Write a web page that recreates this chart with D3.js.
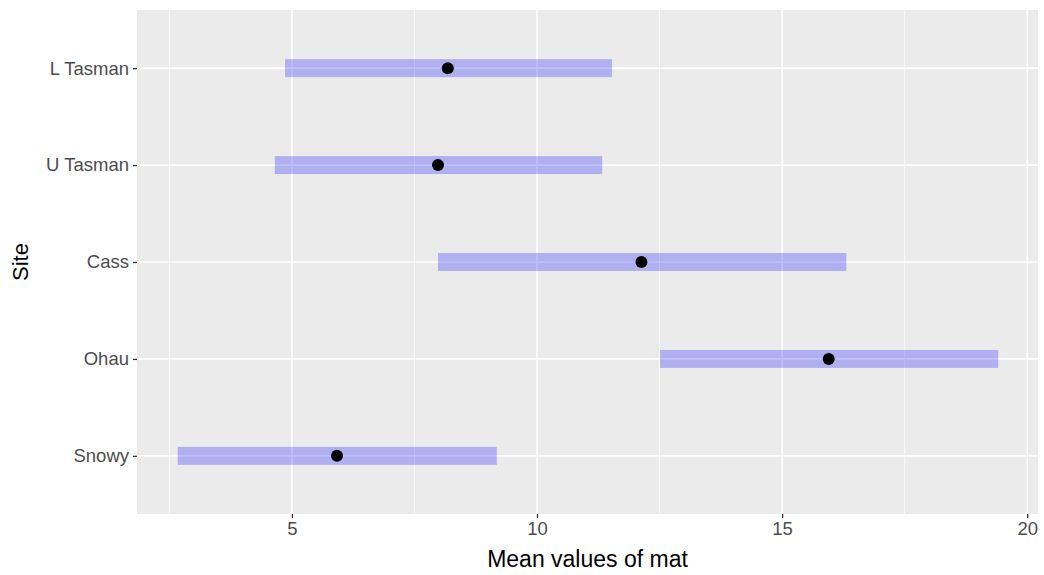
<!DOCTYPE html>
<html>
<head>
<meta charset="utf-8">
<script src="https://cdn.jsdelivr.net/npm/d3@7"></script>
<style>
  body { margin: 0; background: #fff; }
  svg { display: block; font-family: "Liberation Sans", Arial, sans-serif; }
</style>
</head>
<body>
<div id="chart"></div>
<script>
// data
const sites = ["L Tasman", "U Tasman", "Cass", "Ohau", "Snowy"]
const means = [8.18, 7.98, 12.13, 15.95, 5.92]
const lower = [4.86, 4.65, 7.98, 12.51, 2.67]
const upper = [11.53, 11.33, 16.31, 19.41, 9.18]
const xTicks = [5, 10, 15, 20]
const xMinor = [2.5, 7.5, 12.5, 17.5]

const width = 1044
const height = 575
const margin = { top: 10, right: 6, bottom: 61, left: 137 }
const pw = width - margin.left - margin.right
const ph = height - margin.top - margin.bottom

const rows = sites.map((s, i) => ({ site: s, mean: means[i], lo: lower[i], hi: upper[i] }))

const svg = d3.select("#chart").append("svg")
    .attr("width", width)
    .attr("height", height)

const x = d3.scaleLinear()
    .domain([1.84, 20.22])
    .range([0, pw])

// discrete axis with ggplot's 0.6 expansion on each side
const yIdx = d3.scaleLinear()
    .domain([-0.6, sites.length - 1 + 0.6])
    .range([0, ph])
const y = s => yIdx(sites.indexOf(s))

const g = svg.append("g")
    .attr("transform", `translate(${margin.left},${margin.top})`)

// panel
g.append("rect")
    .attr("width", pw)
    .attr("height", ph)
    .attr("fill", "#ebebeb")

// minor grid
g.selectAll(".minor")
    .data(xMinor)
    .join("line")
    .attr("x1", d => x(d)).attr("x2", d => x(d))
    .attr("y1", 0).attr("y2", ph)
    .attr("stroke", "#fff")
    .attr("stroke-width", 0.8)

// major grid
g.selectAll(".vmajor")
    .data(xTicks)
    .join("line")
    .attr("x1", d => x(d)).attr("x2", d => x(d))
    .attr("y1", 0).attr("y2", ph)
    .attr("stroke", "#fff")
    .attr("stroke-width", 1.6)

g.selectAll(".hmajor")
    .data(sites)
    .join("line")
    .attr("x1", 0).attr("x2", pw)
    .attr("y1", d => y(d)).attr("y2", d => y(d))
    .attr("stroke", "#fff")
    .attr("stroke-width", 1.6)

// ranges
g.selectAll(".range")
    .data(rows)
    .join("rect")
    .attr("x", d => x(d.lo))
    .attr("width", d => x(d.hi) - x(d.lo))
    .attr("y", d => y(d.site) - 9)
    .attr("height", 18)
    .attr("fill", "blue")
    .attr("fill-opacity", 0.25)

// means
g.selectAll(".pt")
    .data(rows)
    .join("circle")
    .attr("cx", d => x(d.mean))
    .attr("cy", d => y(d.site))
    .attr("r", 6)
    .attr("fill", "#000")

// x axis
const xa = g.append("g")
    .attr("transform", `translate(0,${ph})`)
    .call(d3.axisBottom(x).tickValues(xTicks).tickSize(4).tickPadding(4).tickFormat(d3.format("d")))
xa.select(".domain").remove()
xa.selectAll("line").attr("stroke", "#333").attr("stroke-width", 1.3)
xa.selectAll("text").attr("fill", "#4d4d4d").style("font-size", "18.5px")

// y axis
const ya = g.append("g")
    .call(d3.axisLeft(yIdx).tickValues(d3.range(sites.length)).tickSize(4).tickPadding(4).tickFormat(i => sites[i]))
ya.select(".domain").remove()
ya.selectAll("line").attr("stroke", "#333").attr("stroke-width", 1.3)
ya.selectAll("text").attr("fill", "#4d4d4d").style("font-size", "18.5px")

// titles
svg.append("text")
    .attr("x", margin.left + pw / 2)
    .attr("y", 567)
    .attr("text-anchor", "middle")
    .style("font-size", "23px")
    .attr("fill", "#000")
    .text("Mean values of mat")

svg.append("text")
    .attr("transform", `translate(28,${margin.top + ph / 2}) rotate(-90)`)
    .attr("text-anchor", "middle")
    .style("font-size", "22px")
    .attr("fill", "#000")
    .text("Site")
</script>
</body>
</html>
